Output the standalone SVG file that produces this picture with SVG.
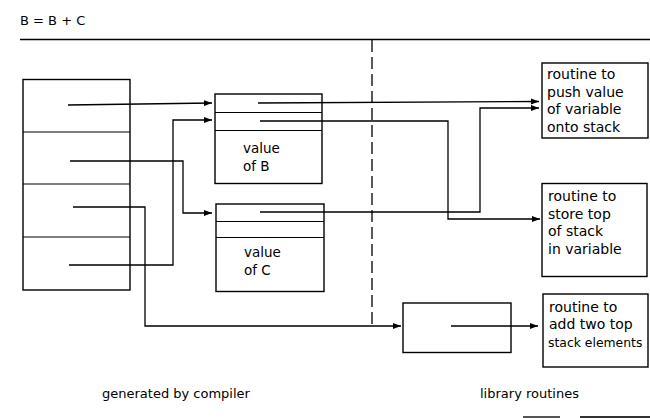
<svg xmlns="http://www.w3.org/2000/svg" width="650" height="418" viewBox="0 0 650 418">
<style>
.box{fill:none;stroke:#000;stroke-width:1.4}
.div{stroke:#000;stroke-width:1.2;fill:none}
.con{fill:none;stroke:#000;stroke-width:1.3}
.arr{marker-end:url(#ah)}
.t{font-family:"DejaVu Sans",sans-serif;font-size:14px;fill:#000}
.v{font-family:"DejaVu Sans",sans-serif;font-size:13.5px;fill:#000}
.s{font-family:"DejaVu Sans",sans-serif;font-size:13px;fill:#000}
.dash{stroke:#000;stroke-width:1.3;stroke-dasharray:12 5;fill:none}
</style>
<defs>
<marker id="ah" markerUnits="userSpaceOnUse" markerWidth="9" markerHeight="7" refX="8" refY="3.5" orient="auto">
<path d="M0,0.5 L8,3.5 L0,6.5 Z" fill="#000"/>
</marker>
</defs>
<rect width="650" height="418" fill="#fff"/>
<text class="s" x="20" y="25">B = B + C</text>
<line x1="20" y1="39.5" x2="650" y2="39.5" stroke="#000" stroke-width="1.4"/>
<line class="dash" x1="372" y1="40" x2="372" y2="326"/>

<g id="compiled-code">
<rect class="box" x="23" y="79.5" width="107" height="210.5"/>
<line class="div" x1="23" y1="132" x2="130" y2="132"/>
<line class="div" x1="23" y1="184" x2="130" y2="184"/>
<line class="div" x1="23" y1="237" x2="130" y2="237"/>
</g>

<g id="var-B">
<rect class="box" x="215" y="94" width="107" height="89.5"/>
<line class="div" x1="215" y1="112.5" x2="322" y2="112.5"/>
<line class="div" x1="215" y1="130.5" x2="322" y2="130.5"/>
<text class="v" x="243" y="153">value</text>
<text class="v" x="243" y="171">of B</text>
</g>

<g id="var-C">
<rect class="box" x="216" y="204" width="108" height="87.5"/>
<line class="div" x1="216" y1="221.5" x2="324" y2="221.5"/>
<line class="div" x1="216" y1="237.5" x2="324" y2="237.5"/>
<text class="v" x="244" y="257">value</text>
<text class="v" x="244" y="275">of C</text>
</g>

<g id="add-stub">
<rect class="box" x="403" y="303" width="108" height="49.5"/>
</g>

<g id="push-routine">
<rect class="box" x="542" y="63" width="106" height="75"/>
<text class="t" x="547" y="79">routine to</text>
<text class="t" x="547" y="96.5">push value</text>
<text class="t" x="547" y="114">of variable</text>
<text class="t" x="547" y="131.5">onto stack</text>
</g>

<g id="store-routine">
<rect class="box" x="542" y="183.5" width="105" height="93"/>
<text class="t" x="548" y="201">routine to</text>
<text class="t" x="548" y="218.5">store top</text>
<text class="t" x="548" y="236">of stack</text>
<text class="t" x="548" y="253.5">in variable</text>
</g>

<g id="add-routine">
<rect class="box" x="543" y="294" width="105" height="73"/>
<text class="t" x="549" y="311.5">routine to</text>
<text class="t" x="549" y="329">add two top</text>
<text class="t" x="548" y="346.5" style="font-size:12.4px">stack elements</text>
</g>

<g id="connectors">
<polyline class="con arr" points="68,105 212,103"/>
<polyline class="con arr" points="69,265 173,265 173,120 212,120"/>
<polyline class="con arr" points="70,161 183,161 183,213 212,213"/>
<polyline class="con arr" points="73,207 145,207 145,326 401,326"/>
<polyline class="con arr" points="258,103 539,101.5"/>
<polyline class="con arr" points="260,212 480,212 480,108 539,108"/>
<polyline class="con arr" points="260,121 448,121 448,219 540,219"/>
<polyline class="con arr" points="451,326 538,326"/>
</g>

<text class="s" x="102" y="398">generated by compiler</text>
<text class="s" x="480" y="398">library routines</text>

<line x1="523" y1="417" x2="560" y2="417" stroke="#555" stroke-width="2"/>
<line x1="580" y1="417" x2="650" y2="417" stroke="#333" stroke-width="2"/>
</svg>
